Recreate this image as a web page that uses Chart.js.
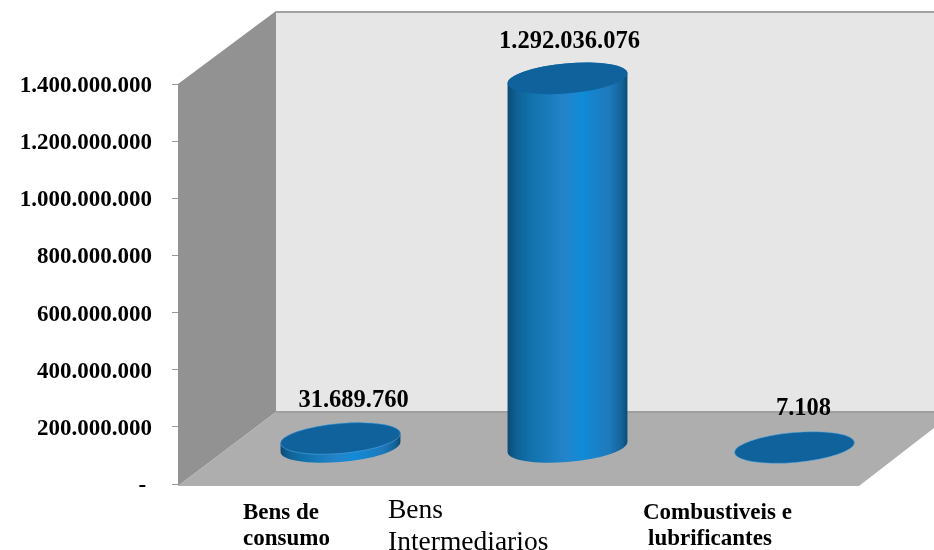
<!DOCTYPE html>
<html><head><meta charset="utf-8">
<script src="https://cdn.jsdelivr.net/npm/chart.js@4"></script>
<style>html,body{margin:0;padding:0;background:#fff}canvas{display:block}</style>
</head><body><canvas id="c" width="934" height="550"></canvas>
<script>
const categories = [["Bens de","consumo"],["Bens","Intermediarios"],["Combustiveis e","lubrificantes"]];
const values = [31689760, 1292036076, 7108];
const valueLabels = ["31.689.760","1.292.036.076","7.108"];
const yMax = 1400000000;
const yStep = 200000000;

const SERIF = '"Liberation Serif","DejaVu Serif",serif';
const DX = 98, DY = 73, TILT = -5*Math.PI/180, RY = 15;
const catStyle = [
  {x:243,ys:[513,539],font:'bold 23px '+SERIF},
  {x:388,ys:[511,543],font:'27.5px '+SERIF},
  {x:643,ys:[513,539],font:'bold 23px '+SERIF,x2:648}
];
const labelStyle = [{dx:13,dy:-38},{dx:2,dy:-37},{dx:9,dy:-39}];

function fmt(v){ return v===0 ? '- ' : String(v).replace(/\B(?=(\d{3})+(?!\d))/g,'.'); }

const scene = {
  id:'scene',
  beforeDraw(chart){
    const {ctx,chartArea:a} = chart;
    const L=a.left,R=a.right,T=a.top,B=a.bottom+2,W=chart.width;
    const backX=L+DX, backY=B-DY-1, topY=T-DY+1;
    ctx.save();
    ctx.fillStyle='#e6e6e6';
    ctx.fillRect(backX,topY,W-backX,backY-topY);
    ctx.fillStyle='#a3a3a3';
    ctx.fillRect(backX,topY-1,W-backX,2);
    ctx.fillStyle='#929292';
    ctx.beginPath();ctx.moveTo(L,T);ctx.lineTo(backX,topY-1);ctx.lineTo(backX,backY);ctx.lineTo(L,B);ctx.closePath();ctx.fill();
    ctx.fillStyle='#aeaeae';
    ctx.beginPath();ctx.moveTo(L,B);ctx.lineTo(R,B);ctx.lineTo(W,B-58);ctx.lineTo(W,backY);ctx.lineTo(backX,backY);ctx.closePath();ctx.fill();
    ctx.fillStyle='#9f9f9f';
    ctx.fillRect(backX,backY-1,W-backX,2);
    ctx.restore();
  },
  afterDatasetsDraw(chart){
    const {ctx} = chart, meta = chart.getDatasetMeta(0);
    meta.data.forEach((bar,i)=>{
      const cx=bar.x+DX/2, a=bar.width/2;
      const yt=bar.y-DY/2, yb=bar.base-DY/2;
      const t0=Math.atan(-(RY/a)*Math.tan(TILT));
      ctx.save();
      if(yb-yt>1){
        const g=ctx.createLinearGradient(cx-a,0,cx+a,0);
        g.addColorStop(0,'#0c4a75');g.addColorStop(.08,'#0f6296');g.addColorStop(.2,'#1272ac');g.addColorStop(.48,'#2384cb');
        g.addColorStop(.62,'#118bd6');g.addColorStop(.85,'#1f79bb');g.addColorStop(.95,'#14639a');g.addColorStop(1,'#0c4a75');
        ctx.fillStyle=g;
        ctx.beginPath();
        ctx.ellipse(cx,yb,a,RY,TILT,t0,t0+Math.PI,false);
        ctx.ellipse(cx,yt,a,RY,TILT,t0+Math.PI,t0,false);
        ctx.closePath();ctx.fill();
      }
      ctx.fillStyle='#10629c';
      ctx.strokeStyle='rgba(90,170,225,.55)';ctx.lineWidth=1;
      ctx.beginPath();ctx.ellipse(cx,yt,a,RY,TILT,0,Math.PI*2);ctx.fill();
      if(i!==1) ctx.stroke();
      ctx.restore();
      ctx.save();
      ctx.fillStyle='#000';ctx.font='bold 24.5px '+SERIF;ctx.textAlign='center';ctx.textBaseline='middle';
      ctx.fillText(valueLabels[i],cx+labelStyle[i].dx,yt+labelStyle[i].dy);
      ctx.restore();
    });
    ctx.save();
    ctx.fillStyle='#000';ctx.textAlign='left';ctx.textBaseline='middle';
    categories.forEach((lines,i)=>{
      const s=catStyle[i];ctx.font=s.font;
      lines.forEach((t,j)=>ctx.fillText(t,(j&&s.x2)||s.x,s.ys[j]));
    });
    ctx.restore();
  }
};

new Chart(document.getElementById('c'),{
  type:'bar',
  data:{labels:categories,datasets:[{data:values,backgroundColor:'rgba(0,0,0,0)',borderWidth:0,barPercentage:.53,categoryPercentage:1}]},
  plugins:[scene],
  options:{
    responsive:false,animation:false,
    layout:{padding:{left:0,right:75,top:84,bottom:0}},
    plugins:{legend:{display:false},tooltip:{enabled:false},title:{display:false}},
    scales:{
      x:{ticks:{display:false},grid:{display:false},border:{display:false},
         afterFit(s){s.height=66;s.paddingLeft=0;s.paddingRight=0;}},
      y:{min:0,max:yMax,
         ticks:{stepSize:yStep,padding:20,labelOffset:2,color:'#000',font:{family:SERIF,weight:'bold',size:23},callback:v=>fmt(v)},
         grid:{drawOnChartArea:false,drawTicks:true,tickLength:6,color:'#999'},
         border:{display:false},
         afterFit(s){s.width=178;s.paddingTop=0;s.paddingBottom=0;}}
    }
  }
});
</script></body></html>
